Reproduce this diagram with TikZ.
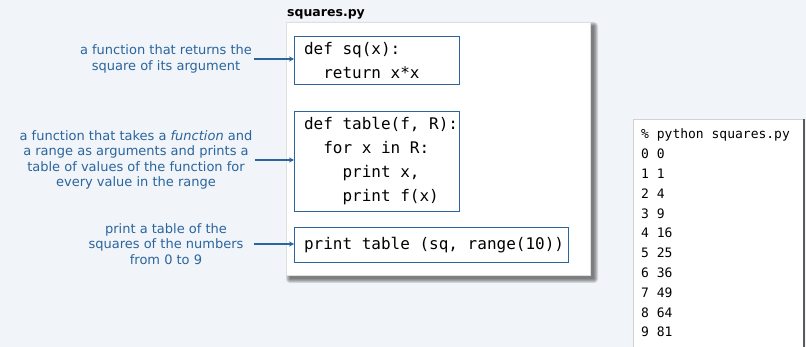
\documentclass[tikz,border=0pt]{standalone}
\usepackage{fontspec}
\setmainfont{DejaVu Sans}
\setmonofont{DejaVu Sans Mono}
\usetikzlibrary{arrows.meta,calc}
\definecolor{pagebg}{HTML}{F1F4F8}
\definecolor{noteblue}{HTML}{2A659E}
\definecolor{termedge}{HTML}{5A5A5A}

\begin{document}
\begin{tikzpicture}[x=1pt,y=-1pt,
  note/.style={text=noteblue, align=center, inner sep=2pt,
    font=\fontsize{13}{15.2}\selectfont},
  % fixed-width spaces, and let a line run into the right padding
  codebox/.style={draw=noteblue, line width=1pt, fill=white, anchor=north west,
    align=flush left, inner xsep=9.5pt, inner ysep=3pt,
    font=\ttfamily\fontsize{16}{24}\selectfont,
    execute at begin node={\spaceskip=0.602em\rightskip=-16pt plus 1fil\relax}},
  callout/.style={noteblue, line width=1.2pt, -{Stealth[length=5pt,width=5pt]}},
  termline/.style={anchor=base west, inner sep=0pt,
    font=\ttfamily\fontsize{13}{16}\selectfont}]
  \useasboundingbox (0,0) rectangle (806,347);
  \fill[pagebg] (0,0) rectangle (806,347);

  % the source file, a white sheet with a soft shadow
  \foreach \r in {0,...,4}
    \fill[black, opacity=0.12, rounded corners=\r pt]
      ({290-\r},{26-\r}) rectangle ({594+\r},{279+\r});
  \node[fill=white, draw=gray!25, line width=0.4pt, anchor=north west,
        minimum width=304pt, minimum height=253pt, inner sep=0pt]
    (file) at (286,22) {};
  \node[anchor=base west, inner sep=0pt, font=\bfseries\fontsize{12.5}{14}\selectfont]
    (title) at (287,17) {squares.py};

  % the three pieces of code
  \node[codebox, text width=146pt, minimum height=48pt] (sqdef) at (294,36)
    {def sq(x):\\\hphantom{xx}return x*x};
  \node[codebox, text width=146pt, minimum height=100pt] (tabledef) at (294,111)
    {def table(f, R):\\
     \hphantom{xx}for x in R:\\
     \hphantom{xxxx}print x,\\
     \hphantom{xxxx}print f(x)};
  \node[codebox, text width=255pt, minimum height=35pt] (call) at (294,227)
    {print table (sq, range(10))};

  % notes on the left
  \node[note] (sqnote) at (166,59)
    {a function that returns the\\square of its argument};
  \node[note] (tablenote) at (136,160)
    {a function that takes a \emph{function} and\\a range as arguments and prints a\\
     table of values of the function for\\every value in the range};
  \node[note] (callnote) at (166,244)
    {print a table of the\\squares of the numbers\\from 0 to 9};

  \draw[callout] (sqnote.east) -- (sqnote.east -| sqdef.west);
  \draw[callout] (tablenote.east) -- (tablenote.east -| tabledef.west);
  \draw[callout, shorten <=8pt] (callnote.east) -- (callnote.east -| call.west);

  % terminal window with the output
  \fill[white] (633,119) rectangle (805,350);
  \draw[gray!35, line width=0.8pt] (633,350) -- (633,119) -- (804,119);
  \draw[termedge, line width=1.5pt] (804,119) -- (804,350);
  \node[termline] (cmd) at (641,139) {\% python squares.py};
  \foreach \n in {0,...,9} {
    \pgfmathtruncatemacro\sqn{\n*\n}
    \node[termline] (out\n) at (641,{158.7+\n*19.8}) {{\n} \sqn};
  }
\end{tikzpicture}
\end{document}
